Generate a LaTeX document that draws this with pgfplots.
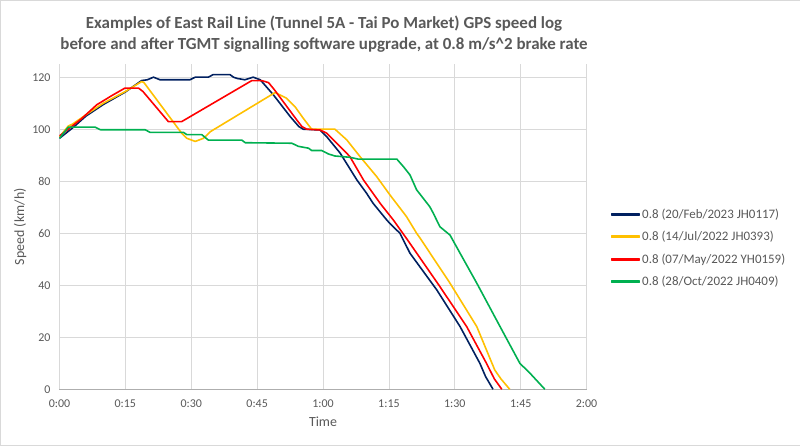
\documentclass[border=0pt]{standalone}
\usepackage{pgfplots}
\pgfplotsset{compat=1.18}
\usepackage{fontspec}
\setmainfont{Carlito}
\definecolor{SeriesNavy}{RGB}{0,32,96}
\definecolor{SeriesAmber}{RGB}{255,192,0}
\definecolor{SeriesRed}{RGB}{255,0,0}
\definecolor{SeriesGreen}{RGB}{0,176,80}
\definecolor{txtgray}{RGB}{89,89,89}
\definecolor{gridgray}{RGB}{217,217,217}
\begin{document}
\begin{tikzpicture}
\draw[gridgray, fill=white] (0,0) rectangle (800bp,445bp);
\node[font=\fontsize{17}{22}\selectfont\bfseries, text=txtgray, align=center] at (324bp,411bp)
  {Examples of East Rail Line (Tunnel 5A - Tai Po Market) GPS speed log\\before and after TGMT signalling software upgrade, at 0.8 m/s\^{}2 brake rate};
\begin{axis}[
  at={(59.3bp,55.7bp)}, anchor=south west,
  scale only axis, width=527.4bp, height=325.3bp,
  xmin=0, xmax=120, ymin=0, ymax=125,
  xtick={0,15,30,45,60,75,90,105,120},
  xticklabels={0:00,0:15,0:30,0:45,1:00,1:15,1:30,1:45,2:00},
  ytick={0,20,40,60,80,100,120},
  /pgf/number format/assume math mode=true,
  grid=major, major grid style={gridgray, line width=0.8pt},
  axis x line=bottom, axis y line=left,
  x axis line style={gridgray!80!black, line width=0.9pt, -},
  y axis line style={draw=none},
  major tick length=0pt,
  tick label style={font=\fontsize{12}{14}\selectfont, text=txtgray},
  yticklabel style={xshift=-5.5pt},
  xticklabel style={yshift=-7pt},
  xlabel={Time}, ylabel={Speed (km/h)},
  label style={font=\fontsize{14}{16}\selectfont, text=txtgray},
  xlabel style={yshift=-2pt},
  ylabel style={yshift=-1pt},
  legend style={at={(1.040,0.434)}, anchor=west, draw=none, fill=none,
    font=\fontsize{13}{15.6}\selectfont, row sep=7.6pt},
  legend cell align=left,
  legend image code/.code={\fill[#1] (0cm,-0.7pt) rectangle (0.98cm,0.7pt);},
  every axis plot/.append style={line width=1.6pt, line join=round},
]
\addplot[color=SeriesNavy, mark=none] coordinates {
(0,96.5)(3,100.5)(6,105)(10,109.5)(15,114.3)(18.7,118.7)(20,119)(21.4,120)(22.9,119)(29.7,119)(30.9,120)(33.9,120)(35,121)(38.8,121)(39.6,120)(40.5,119.5)(42.2,119)(44.1,120)(45.7,119)(48.7,113.2)(52.5,104.9)(54.5,101)(55.5,100)(59.3,99.7)(60.8,97.2)(63.9,90.8)(67.7,80.5)(69.9,75.4)(71.4,71.5)(74.5,65.1)(75.2,63.8)(77.5,60)(79.8,52.3)(85.9,38.2)(91.2,24.1)(95.7,10)(97,4.9)(98.7,0)};
\addlegendentry{\textcolor{txtgray}{0.8 (20/Feb/2023 JH0117)}}
\addplot[color=SeriesAmber, mark=none] coordinates {
(0,97)(2,101.2)(3,102)(6,105.5)(10,110)(15,114.5)(18.7,118.3)(19.2,118)(27.8,98.5)(29,96.5)(30.9,95.3)(32.8,96.5)(34.3,99)(49.1,114.1)(51.7,111.9)(53.6,108.7)(55.5,104.2)(57.4,100)(62.7,100)(65.4,95.9)(68.4,89.5)(72.2,81.8)(75.2,74.8)(79,66.4)(81.3,60)(82.1,58.1)(88.9,40.8)(95,24.1)(99.1,7.4)(100.5,4)(102.5,0)};
\addlegendentry{\textcolor{txtgray}{0.8 (14/Jul/2022 JH0393)}}
\addplot[color=SeriesRed, mark=none] coordinates {
(0,97.4)(2,100)(5,104)(8.5,109.4)(12,113)(14.9,115.8)(18,115.8)(19,114.5)(24.8,102.9)(27.8,102.9)(43.8,118.7)(46,118.7)(47.6,117.9)(49,115)(54,103.6)(55.2,101)(56.3,100)(59.3,99.7)(60.8,98.5)(63.9,93.3)(66.1,89.5)(69.2,80.5)(73,71.5)(76,65.1)(79,58)(86.6,39.5)(92.7,24.1)(97.2,10)(99,4)(100.7,0)};
\addlegendentry{\textcolor{txtgray}{0.8 (07/May/2022 YH0159)}}
\addplot[color=SeriesGreen, mark=none] coordinates {
(0,96.5)(2,100.8)(8.1,100.8)(9.3,99.8)(19.5,99.8)(20.6,98.8)(28.2,98.8)(29,97.9)(32.4,97.9)(33.9,95.8)(41.5,95.8)(42.3,94.8)(52.9,94.6)(54.4,93.4)(56.7,92.7)(57.4,91.8)(59.7,91.8)(61.2,90.5)(62.7,89.7)(66.1,89.2)(68,88.5)(76.8,88.5)(78.3,85.6)(79.8,82.4)(81.3,76.7)(84.3,70.2)(85.1,67.7)(86.6,62.5)(88.9,59.3)(91.2,52.3)(95,40.8)(100.3,24.1)(104.8,10)(107.1,6.2)(110.5,0)};
\addlegendentry{\textcolor{txtgray}{0.8 (28/Oct/2022 JH0409)}}
\end{axis}
\end{tikzpicture}
\end{document}
